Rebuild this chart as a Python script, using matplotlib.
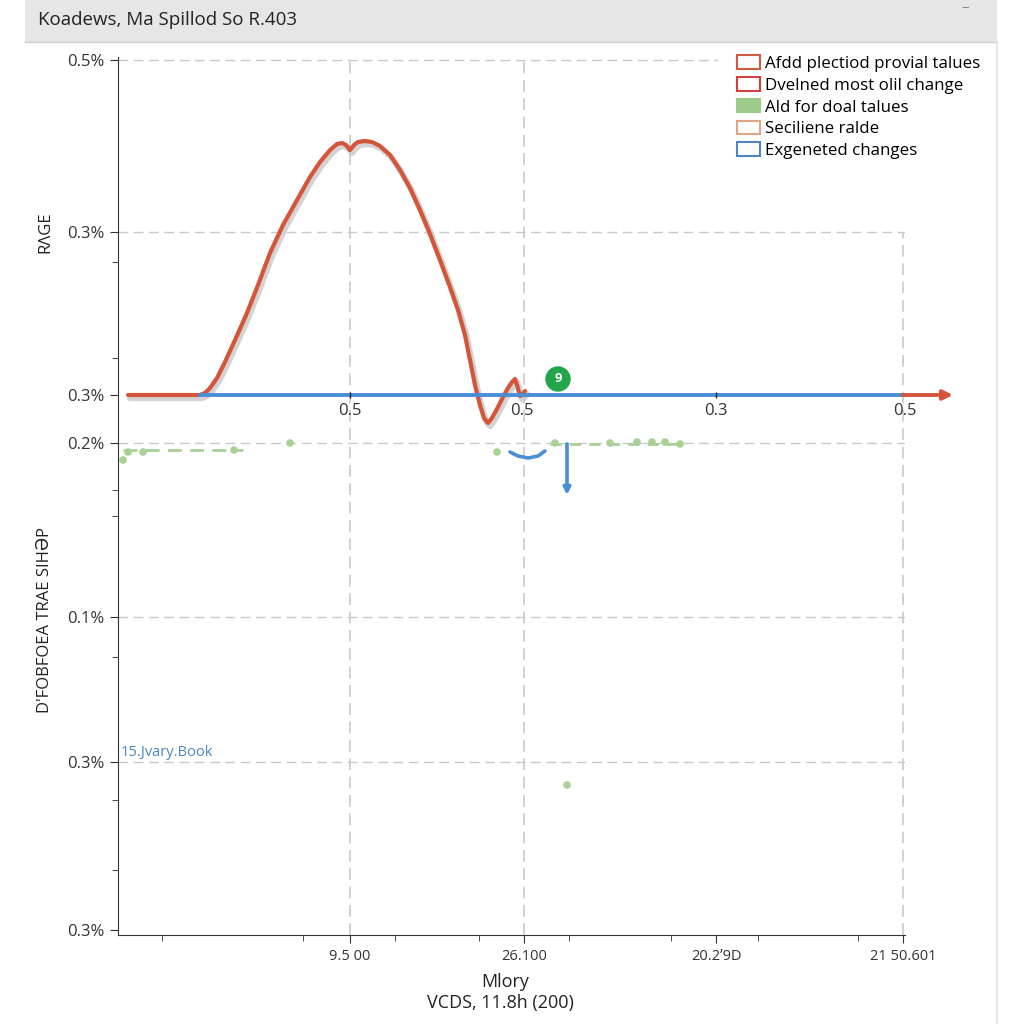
import matplotlib.pyplot as plt
from matplotlib.patches import Patch, Rectangle, Circle
from matplotlib.lines import Line2D

plt.rcParams['font.family'] = ['Open Sans', 'DejaVu Sans']

# values (x: 0..787, y: 0..880 chart units)
curve_x = [10, 82, 87, 92, 99, 107, 117, 129, 140, 152, 165, 179, 192, 202,
           212, 219, 224, 228, 232, 236, 240, 247, 254, 262, 272, 282, 292,
           302, 312, 322, 332, 340, 347, 352, 357, 362, 366, 370, 374, 380,
           385, 390, 394, 397, 399, 402, 404, 407]
curve_y = [540, 540, 542, 547, 557, 573, 595, 622, 650, 682, 710, 735, 758, 773,
           785, 791, 792, 790, 785, 790, 793, 794, 793, 789, 780, 765, 747,
           725, 701, 675, 648, 625, 600, 575, 550, 530, 517, 512, 517, 528,
           538, 547, 553, 556, 550, 539, 540, 544]
base_x = [82, 787]
base_y = [540, 540]
green_x = [5, 10, 25, 116, 172, 379, 437, 492, 519, 534, 547, 562, 449]
green_y = [475, 483, 483, 485, 492, 483, 492, 492, 493, 493, 493, 491, 150]
green_dash_x = [5, 125]
green_dash_y = [485, 485]
arc_x = [392, 400, 410, 420, 427]
arc_y = [483, 479, 477, 479, 484]

ytick_pos = [875, 703, 540, 492, 318, 173, 5]
ytick_labels = ['0.5%', '0.3%', '0.3%', '0.2%', '0.1%', '0.3%', '0.3%']
yminor_pos = [673, 577, 445, 419, 278, 135, 65]
xtick_pos = [232, 406, 598, 785]
xtick_labels = ['9.5 00', '26.100', '20.2\u02bc9D', '21 50.601']
xminor_pos = [44, 185, 277, 361, 451, 553, 640, 740]
mid_pos = [232, 404, 598, 787]
mid_labels = ['0.5', '0.5', '0.3', '0.5']

legend_labels = ['Afdd plectiod provial talues', 'Dvelned most olil change',
                 'Ald for doal talues', 'Seciliene ralde', 'Exgeneted changes']

red = '#d4553a'
blue = '#4a8fd6'
lgreen = '#a9d196'
grid_c = '#c9c9c9'

fig = plt.figure(figsize=(10.24, 10.24), dpi=100)
fig.patch.set_facecolor('white')

# window title bar
fig.patches.append(Rectangle((25 / 1024, 1 - 42 / 1024), 972 / 1024, 42 / 1024,
                             transform=fig.transFigure, facecolor='#e6e6e6',
                             edgecolor='none', zorder=0))
fig.lines.append(Line2D([25 / 1024, 997 / 1024], [1 - 42 / 1024] * 2,
                        transform=fig.transFigure, color='#cfcfcf', lw=1))
fig.lines.append(Line2D([997 / 1024] * 2, [0, 1 - 42 / 1024],
                        transform=fig.transFigure, color='#e2e2e2', lw=1.2))
fig.text(38 / 1024, 1 - 20 / 1024, 'Koadews, Ma Spillod So R.403',
         fontsize=13.5, va='center', ha='left', color='#222222')
fig.text(965 / 1024, 1 - 7 / 1024, '\u2013', fontsize=11, va='center',
         ha='center', color='#888888')

ax = fig.add_axes([118 / 1024, 89 / 1024, 787 / 1024, 880 / 1024])
ax.set_xlim(0, 787)
ax.set_ylim(0, 880)
for s in ['top', 'right']:
    ax.spines[s].set_visible(False)
ax.spines['left'].set_color('#333333')
ax.spines['bottom'].set_color('#333333')
ax.spines['left'].set_bounds(0, 878)

# grid
dash = (0, (7, 4))
ax.plot([0, 600], [875, 875], color=grid_c, lw=1, ls=dash, zorder=1)
for yv in [703, 492, 318, 173]:
    ax.plot([0, 787], [yv, yv], color=grid_c, lw=1, ls=dash, zorder=1)
for xv in [232, 406]:
    ax.plot([xv, xv], [0, 880], color=grid_c, lw=1.2, ls=dash, zorder=1)
ax.plot([785, 785], [0, 703], color=grid_c, lw=1.2, ls=dash, zorder=1)

ax.set_yticks(ytick_pos)
ax.set_yticklabels(ytick_labels, fontsize=12, color='#333333')
ax.set_yticks(yminor_pos, minor=True)
ax.set_xticks(xtick_pos)
ax.set_xticklabels(xtick_labels, fontsize=10.5, color='#333333')
ax.set_xticks(xminor_pos, minor=True)
ax.tick_params(axis='both', which='major', length=6, color='#333333')
ax.tick_params(axis='both', which='minor', length=4, color='#333333')
ax.tick_params(axis='x', pad=4)

# green values
ax.plot(green_dash_x, green_dash_y, color=lgreen, lw=2, ls=(0, (5, 3)), zorder=2)
ax.plot([432, 565], [491, 491], color=lgreen, lw=2, ls=(0, (4, 3)), zorder=2)
ax.scatter(green_x, green_y, s=30, color=lgreen, zorder=3, edgecolors='none')

# main curve with shadow
ax.plot([x + 2 for x in curve_x], [y - 3 for y in curve_y], color='#c8c8c8',
        lw=4.5, alpha=0.8, solid_joinstyle='round', solid_capstyle='round', zorder=3)
ax.plot(curve_x, curve_y, color=red, lw=3, solid_joinstyle='round',
        solid_capstyle='round', zorder=4)
ax.plot(base_x, base_y, color=blue, lw=2.8, zorder=5)
ax.annotate('', xy=(835, 540), xytext=(785, 540), annotation_clip=False,
            arrowprops=dict(arrowstyle='-|>', color=red, lw=2.8,
                            mutation_scale=14, shrinkA=0, shrinkB=0), zorder=5)
ax.plot([232, 598], [540, 540], ls='none', marker='|', color='#222222',
        markersize=4, zorder=6)

for xv, lab in zip(mid_pos, mid_labels):
    ax.text(xv, 524, lab, fontsize=12, ha='center', va='center', color='#333333')

# blue markers
ax.plot(arc_x, arc_y, color=blue, lw=2.6, solid_capstyle='round', zorder=5)
ax.annotate('', xy=(449, 440), xytext=(449, 491),
            arrowprops=dict(arrowstyle='-|>', color=blue, lw=2.6,
                            mutation_scale=10, shrinkA=0, shrinkB=0), zorder=5)
ax.add_patch(Circle((440, 556), 12, color='#22a64a', zorder=6))
ax.text(440, 557, '9', color='white', fontsize=9.5, ha='center', va='center',
        fontweight='bold', zorder=7)

ax.text(3, 175, '15.Jvary.Book', fontsize=10.5, color='#4a86c8', ha='left',
        va='bottom')

# axis labels
fig.text(45 / 1024, 1 - 232 / 1024, 'R\u039bGE', rotation=90, fontsize=12,
         ha='center', va='center', color='#222222')
fig.text(45 / 1024, 1 - 620 / 1024, "D'FOBFOEA TRAE SIH\u018fP", rotation=90,
         fontsize=12, ha='center', va='center', color='#222222')
fig.text(505 / 1024, 1 - 982 / 1024, 'Mlory', fontsize=13, ha='center',
         va='center', color='#222222')
fig.text(500 / 1024, 1 - 1003 / 1024, 'VCDS, 11.8h (200)', fontsize=13,
         ha='center', va='center', color='#222222')

handles = [Patch(facecolor='white', edgecolor='#cf5a45', lw=1.5),
           Patch(facecolor='white', edgecolor='#d04040', lw=1.5),
           Patch(facecolor='#9ccb8a', edgecolor='#9ccb8a', lw=1.5),
           Patch(facecolor='white', edgecolor='#e0a585', lw=1.5),
           Patch(facecolor='white', edgecolor='#4a86c8', lw=1.5)]
fig.legend(handles, legend_labels, loc='upper left',
           bbox_to_anchor=(729 / 1024, 1 - 47 / 1024), frameon=False,
           fontsize=12.2, handlelength=1.3, handleheight=0.85, handletextpad=0.35,
           labelspacing=0.3, borderpad=0)

fig.savefig('out.png', dpi=100)
